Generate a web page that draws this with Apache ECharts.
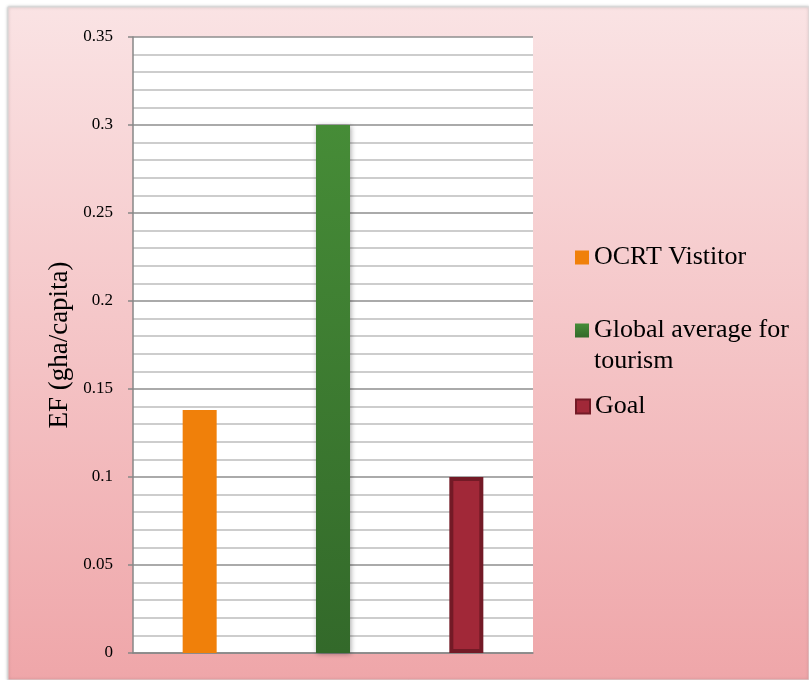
<!DOCTYPE html>
<html>
<head>
<meta charset="utf-8">
<style>
  html, body { margin: 0; padding: 0; background: #ffffff; }
  #chart { width: 809px; height: 680px; }
</style>
<script src="https://cdn.jsdelivr.net/npm/echarts@6/dist/echarts.min.js"></script>
</head>
<body>
<div id="chart"></div>
<script>
// Ecological footprint per visitor, compared with the global tourism average and the goal
const categories = ['OCRT Vistitor', 'Global average for\ntourism', 'Goal'];
const efValues = [0.138, 0.300, 0.100];
const yTicks = { min: 0, max: 0.35, interval: 0.05 };
const axisTitle = 'EF (gha/capita)';

const serif = '"Liberation Serif", "DejaVu Serif", serif';

const barStyles = [
  { color: '#f0800a' },
  {
    color: {
      type: 'linear', x: 0, y: 0, x2: 0, y2: 1,
      colorStops: [{ offset: 0, color: '#468c37' }, { offset: 1, color: '#33692a' }]
    },
    shadowBlur: 5, shadowColor: 'rgba(0,0,0,0.35)', shadowOffsetX: 1, shadowOffsetY: 1
  },
  { color: '#a12838', borderColor: '#731a26', borderWidth: 4 }
];

// one series per category so each gets its own legend entry; bars overlap on the band centre
const series = categories.map((name, i) => ({
  name: name,
  type: 'bar',
  barWidth: 34,
  barGap: '-100%',
  data: categories.map((_, j) => (j === i ? efValues[i] : '-')),
  itemStyle: barStyles[i],
  emphasis: { disabled: true }
}));

// separate legend blocks; the wrapped entry gets a blank leading line so that
// its swatch (centred on the text block) lines up with the first text line
const legendTops = [237, 279, 386];
const legends = categories.map((name, i) => ({
  data: [name],
  left: 570,
  top: legendTops[i],
  orient: 'vertical',
  icon: 'rect',
  itemWidth: 14,
  itemHeight: 14,
  itemGap: 0,
  formatter: n => (n.indexOf('\n') >= 0 ? ' \n' + n : n),
  textStyle: { fontFamily: serif, fontSize: 26, color: '#000', lineHeight: 31 },
  selectedMode: false
}));

const chart = echarts.init(document.getElementById('chart'), null, { renderer: 'canvas' });
chart.setOption({
  animation: false,
  backgroundColor: '#ffffff',
  graphic: [
    {
      type: 'rect', z: -10, silent: true,
      shape: { x: 8, y: 7, width: 801, height: 673 },
      style: {
        fill: {
          type: 'linear', x: 0, y: 0, x2: 0, y2: 1,
          colorStops: [{ offset: 0, color: '#fae3e4' }, { offset: 1, color: '#efa6a9' }]
        },
        stroke: '#d8d8d8', lineWidth: 1,
        shadowBlur: 3, shadowColor: 'rgba(0,0,0,0.25)'
      }
    }
  ],
  grid: {
    left: 133, right: 276, top: 37, bottom: 27,
    show: true, backgroundColor: '#ffffff', borderWidth: 0
  },
  legend: legends,
  xAxis: {
    type: 'category',
    data: categories,
    axisLine: { show: true, lineStyle: { color: '#878787', width: 1.5 } },
    axisTick: { show: false },
    axisLabel: { show: false },
    splitLine: { show: false }
  },
  yAxis: {
    type: 'value',
    min: yTicks.min,
    max: yTicks.max,
    interval: yTicks.interval,
    name: axisTitle,
    nameLocation: 'middle',
    nameRotate: 90,
    nameGap: 60,
    nameTextStyle: { fontFamily: serif, fontSize: 27, color: '#000' },
    axisLine: { show: true, lineStyle: { color: '#878787', width: 1.5 } },
    axisTick: { show: true, length: 5, lineStyle: { color: '#878787', width: 1.5 } },
    axisLabel: {
      fontFamily: serif, fontSize: 17, color: '#000', margin: 20,
      formatter: v => String(parseFloat(v.toFixed(2)))
    },
    splitLine: { show: true, lineStyle: { color: '#8e8e8e', width: 1.5 } },
    minorTick: { show: false, splitNumber: 5 },
    minorSplitLine: { show: true, lineStyle: { color: '#bdbdbd', width: 1.5 } }
  },
  series: series
});
</script>
</body>
</html>
